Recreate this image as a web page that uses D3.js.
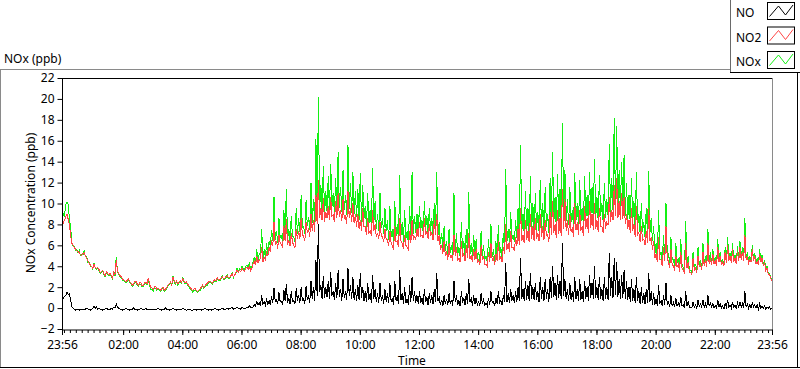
<!DOCTYPE html>
<html><head><meta charset="utf-8">
<script src="https://cdn.jsdelivr.net/npm/d3@7"></script>
<style>
html,body{margin:0;padding:0;background:#fff;}
svg{display:block;font-family:"Noto Sans","DejaVu Sans",sans-serif;}
</style></head>
<body><svg id="c" width="800" height="369"></svg>
<script>
// ---- data: samples every 2.5 minutes starting 23:56 (577 points, one row per hour) ----
const seriesNames = ["NO", "NO2", "NOx"];
const stepMinutes = 2.5;
const NO = [
0.7,0.9,1.1,1.2,1.5,1.3,1.4,0.8,0.1,0.0,-0.1,-0.2,-0.1,-0.1,-0.2,-0.1,-0.1,-0.2,-0.1,-0.1,0.0,-0.1,-0.1,-0.2,
-0.1,0.0,0.2,0.0,0.1,-0.1,0.0,-0.1,-0.1,-0.2,-0.1,-0.1,0.0,-0.1,-0.1,-0.2,0.0,-0.1,0.1,0.0,0.4,0.1,0.0,-0.1,
-0.1,-0.2,-0.1,-0.1,0.0,-0.1,-0.1,-0.2,-0.1,-0.1,0.0,-0.1,-0.1,-0.2,-0.1,-0.1,0.0,-0.1,-0.1,-0.1,0.0,-0.2,-0.1,-0.1,
-0.1,-0.2,-0.1,-0.1,-0.1,-0.1,0.0,-0.1,-0.1,-0.2,-0.1,-0.1,0.0,-0.1,-0.1,-0.2,-0.1,-0.1,0.0,-0.1,-0.1,-0.2,-0.1,-0.1,
-0.1,-0.1,0.0,-0.1,-0.1,-0.2,-0.1,-0.1,-0.1,-0.2,-0.2,-0.1,-0.1,-0.2,-0.1,-0.1,-0.1,-0.2,-0.1,-0.1,0.0,-0.1,-0.1,-0.2,
-0.1,-0.2,-0.1,-0.1,0.0,-0.1,-0.1,-0.2,-0.1,-0.1,0.0,-0.1,-0.1,-0.1,0.0,-0.1,0.0,0.0,0.1,-0.1,0.0,0.0,0.1,0.0,
0.0,-0.1,0.1,0.0,0.0,0.0,0.1,0.0,0.2,0.1,0.1,0.1,0.3,0.2,0.6,0.3,0.5,0.2,1.2,0.4,0.6,0.3,0.8,0.4,
0.7,0.3,1.1,0.5,1.9,0.6,0.8,0.4,1.5,0.6,0.6,0.3,1.7,0.7,2.3,0.5,0.9,0.4,1.6,0.6,0.7,0.4,1.9,0.7,
1.2,0.5,2.0,0.7,0.9,0.4,2.1,0.8,1.1,0.5,2.6,0.9,2.0,0.7,4.6,1.2,8.0,1.5,2.2,0.9,3.1,1.0,2.0,1.1,
2.6,0.9,3.4,1.2,1.6,0.8,2.4,1.0,3.6,1.1,1.8,0.7,2.8,1.0,1.6,0.8,3.8,1.2,2.2,0.9,3.0,0.8,1.8,0.7,
2.2,0.8,3.4,1.0,2.0,0.7,1.6,0.6,2.4,0.8,1.4,0.5,3.2,0.9,1.8,0.6,1.4,0.5,2.4,0.7,1.2,0.4,1.8,0.6,
1.4,0.5,2.4,0.6,1.0,0.3,2.6,0.7,1.2,0.4,3.6,0.8,1.4,0.4,2.0,0.5,0.9,0.3,2.2,0.6,3.0,0.7,1.6,0.5,
1.2,0.4,1.6,0.5,1.0,0.3,1.8,0.6,1.0,0.3,1.4,0.5,1.2,0.4,1.8,0.6,3.4,0.7,1.0,0.3,0.8,0.2,1.2,0.4,
0.9,0.3,1.4,0.4,0.8,0.2,2.6,0.6,1.2,0.3,0.7,0.2,1.6,0.5,1.0,0.3,1.4,0.4,2.8,0.6,0.9,0.2,1.2,0.4,
1.0,0.3,0.6,0.2,1.4,0.4,0.8,0.3,0.5,0.2,1.0,0.3,1.6,0.5,0.6,0.2,1.0,0.4,1.6,0.5,0.7,0.3,1.2,0.6,
4.3,0.6,1.4,0.5,1.8,0.7,1.2,0.5,1.6,0.6,2.0,0.7,4.8,0.9,1.8,0.7,2.6,0.8,2.2,0.7,3.4,0.9,2.0,0.8,
2.4,0.8,1.6,0.6,3.0,0.9,2.0,0.7,2.8,0.9,1.8,0.6,3.0,1.0,4.0,1.1,2.4,0.8,3.2,1.0,2.6,0.9,6.2,1.2,
2.8,0.9,1.8,0.7,2.4,0.8,1.6,0.6,3.0,0.9,1.8,0.7,2.8,0.8,1.6,0.6,2.6,0.9,2.0,0.7,3.2,1.0,2.4,0.9,
4.0,1.0,2.0,0.8,3.0,0.9,1.8,0.7,3.0,0.9,2.0,0.8,5.3,1.2,3.0,1.0,4.8,1.3,4.4,1.1,2.8,0.9,3.2,1.0,
3.6,0.9,2.6,0.8,2.0,0.6,2.8,0.7,1.8,0.5,3.0,0.7,1.6,0.4,2.0,0.5,1.4,0.4,1.8,0.5,3.4,0.6,1.6,0.3,
1.4,0.3,0.9,0.2,2.2,0.4,0.7,0.2,1.2,0.3,2.4,0.3,0.7,0.1,1.2,0.2,0.5,0.1,1.0,0.2,0.5,0.1,1.1,0.2,
0.3,0.0,1.6,0.2,0.6,0.1,0.1,0.0,0.6,0.1,0.3,0.0,0.8,0.2,0.4,0.1,0.8,0.1,0.4,0.0,1.2,0.2,0.5,0.1,
0.4,0.0,0.2,0.0,0.8,0.1,0.4,0.0,0.2,-0.1,0.4,0.1,0.8,0.1,0.3,0.0,0.6,0.1,0.3,0.0,0.5,0.1,0.6,0.1,
0.4,0.0,1.6,0.1,0.4,0.0,0.3,0.0,0.5,0.1,0.3,0.0,0.3,-0.1,0.4,0.0,0.2,0.0,0.2,-0.1,0.1,0.0,0.1,-0.1,0.0
];
const NO2 = [
7.8,8.1,8.4,8.7,9.0,8.5,8.0,7.0,6.2,6.0,5.8,5.6,5.5,5.4,5.3,5.1,5.0,5.2,5.3,5.0,4.8,4.5,4.3,4.1,
4.0,3.8,4.2,3.9,3.8,3.9,3.7,3.4,3.5,3.6,3.3,3.1,3.5,3.3,3.2,3.3,3.1,2.9,3.4,3.2,4.6,3.6,3.3,3.1,
3.0,2.8,2.7,2.6,2.5,2.7,2.8,2.5,2.4,2.2,2.3,2.5,2.6,2.3,2.2,2.4,2.4,2.1,2.2,2.4,2.5,2.3,2.9,2.3,
2.0,1.9,1.8,2.0,2.1,1.8,1.9,1.8,1.7,1.9,2.0,1.7,1.8,2.0,2.2,2.3,2.5,2.2,3.0,2.6,2.4,2.6,2.3,2.5,
2.6,2.5,2.8,2.6,2.4,2.5,2.3,2.1,2.0,1.8,1.7,1.8,1.9,1.7,1.6,1.7,1.8,2.0,2.2,2.0,2.1,2.3,2.4,2.5,
2.6,2.5,2.4,2.6,2.7,2.6,2.9,2.7,2.7,2.9,3.0,2.8,2.8,3.0,3.1,2.9,2.9,3.1,3.3,3.0,3.1,3.4,3.6,3.4,
3.6,3.5,3.8,3.6,3.5,3.8,3.9,3.7,4.0,3.6,3.8,4.2,4.5,4.1,5.0,4.3,4.6,4.8,5.8,4.4,4.8,4.6,5.3,5.0,
5.8,5.4,6.5,5.9,8.2,6.0,6.4,5.7,7.0,6.2,6.1,5.8,7.8,6.4,8.5,6.0,6.5,5.9,7.2,6.3,6.0,5.8,7.6,6.6,
7.4,6.6,8.6,7.0,6.9,6.4,8.2,7.2,7.6,6.8,9.0,7.4,8.4,7.3,10.8,8.0,12.2,8.6,9.6,8.4,10.5,8.2,9.2,8.6,
9.8,8.4,10.6,8.8,8.9,8.2,10.2,8.6,11.0,8.7,9.4,8.3,10.4,8.5,8.8,8.0,11.2,8.6,9.6,8.2,10.0,8.1,9.0,7.8,
9.0,7.6,8.4,7.4,9.6,7.8,7.8,7.0,8.6,7.2,7.4,6.9,9.4,7.4,8.0,6.8,7.2,6.6,8.2,6.9,6.8,6.3,7.6,6.6,
6.6,5.9,7.4,6.2,6.0,5.6,7.8,6.3,6.4,5.8,8.6,6.4,6.2,5.7,7.0,6.0,5.8,5.6,7.4,6.2,8.4,6.5,6.8,6.6,
7.6,6.8,8.2,6.9,7.0,6.7,8.6,7.0,7.4,6.6,8.0,6.9,7.2,6.5,8.4,7.0,9.0,6.4,7.0,5.6,6.0,5.2,6.4,5.0,
5.4,4.6,6.2,4.8,5.0,4.5,7.0,5.0,5.8,4.6,4.8,4.4,6.4,4.9,5.2,4.5,6.0,4.8,7.2,4.7,5.0,4.4,5.6,4.6,
5.6,4.3,4.6,4.1,6.0,4.6,5.0,4.2,4.2,4.0,5.4,4.4,6.2,4.5,4.8,4.1,5.2,4.5,6.4,4.6,5.0,4.4,5.8,5.2,
8.0,5.6,6.2,5.4,7.4,5.8,5.8,5.5,6.8,5.9,7.6,6.0,9.6,6.4,7.0,6.2,8.4,6.5,7.4,6.3,9.0,6.6,7.8,6.4,
8.6,6.6,7.2,6.4,9.0,6.8,7.8,6.5,8.4,6.9,7.0,6.3,9.2,7.0,10.2,7.2,8.0,6.7,9.4,7.1,8.6,6.9,11.4,7.6,
10.4,7.4,8.4,7.0,9.0,7.3,7.6,6.8,10.0,7.5,8.2,7.0,9.4,7.4,7.8,6.9,9.8,7.6,8.6,7.2,10.2,7.7,9.0,7.5,
10.0,7.6,8.4,7.3,9.6,7.8,7.8,7.2,9.0,7.6,8.2,7.9,10.6,8.2,9.4,8.4,11.8,8.8,12.4,8.6,10.2,8.4,11.0,8.5,
10.6,8.0,9.0,7.6,8.4,7.2,9.6,7.4,8.0,6.8,9.8,7.0,7.2,6.3,7.8,6.5,6.6,6.0,7.4,6.2,9.6,6.4,6.8,5.6,
6.4,4.8,5.2,4.4,6.8,4.6,4.6,4.0,5.8,4.5,7.8,4.8,4.4,3.8,5.6,4.2,4.0,3.6,5.0,3.9,4.2,3.5,5.4,3.8,
3.6,3.3,6.2,3.8,4.4,3.4,3.4,3.2,4.8,3.6,3.8,3.4,5.0,3.9,4.2,3.6,5.4,4.0,4.6,3.9,6.2,4.2,4.8,4.1,
5.2,4.2,4.6,4.0,5.8,4.4,5.0,4.1,4.4,4.0,5.4,4.3,6.0,4.5,5.0,4.3,5.6,4.4,4.8,4.2,5.4,4.5,5.8,4.6,
5.4,4.5,7.0,4.6,5.0,4.3,4.6,4.4,5.6,4.5,5.0,4.2,4.4,4.1,5.2,4.4,4.8,4.0,4.4,3.6,3.8,3.2,3.2,2.8,2.6
];
const NOx = [
8.0,9.0,8.8,9.9,10.1,9.9,8.6,7.7,6.3,5.9,5.9,5.5,5.6,5.3,5.5,5.0,5.1,5.1,5.5,4.9,4.9,4.4,4.4,4.0,
4.0,3.7,4.3,3.8,3.7,3.8,3.6,3.3,3.4,3.5,3.2,3.0,3.4,3.2,3.1,3.2,3.0,2.8,3.5,3.1,4.9,3.5,3.2,3.0,
2.9,2.7,2.6,2.5,2.4,2.6,2.7,2.4,2.3,2.1,2.2,2.4,2.5,2.2,2.1,2.3,2.3,2.0,2.1,2.3,2.4,2.2,2.8,2.2,
1.8,1.8,1.6,1.9,1.9,1.7,1.8,1.7,1.6,1.8,1.9,1.6,1.7,1.9,2.1,2.2,2.4,2.1,3.1,2.5,2.3,2.5,2.2,2.4,
2.5,2.4,2.9,2.5,2.3,2.4,2.2,2.0,1.8,1.7,1.5,1.7,1.7,1.6,1.5,1.6,1.7,1.9,2.1,1.9,2.0,2.2,2.2,2.4,
2.5,2.4,2.3,2.5,2.6,2.5,2.8,2.6,2.6,2.8,3.1,2.7,2.7,2.9,3.2,2.8,2.9,3.0,3.4,2.9,3.2,3.3,3.8,3.4,
3.8,3.7,4.0,3.8,3.6,4.0,4.1,3.9,4.3,3.8,4.0,4.4,4.9,4.3,5.6,4.5,5.2,5.0,7.6,4.6,5.6,4.8,6.2,5.2,
6.4,5.9,7.5,6.4,10.6,6.5,7.4,6.2,8.6,6.7,6.9,6.3,9.4,6.9,11.4,6.5,7.6,6.4,8.8,6.8,6.8,6.3,9.6,7.1,
8.6,7.3,10.8,7.7,7.8,7.1,10.3,7.9,8.7,7.5,12.0,8.1,10.4,8.0,16.2,8.7,20.2,9.3,11.8,9.1,13.6,8.9,11.2,9.3,
12.6,9.3,13.8,9.7,11.0,9.1,12.4,9.5,14.9,9.6,11.6,9.2,13.2,9.4,10.8,8.9,15.6,9.5,12.0,9.1,13.0,9.0,11.2,8.7,
11.4,8.4,12.9,8.2,11.8,8.6,9.8,7.8,11.0,8.0,9.4,7.7,13.4,8.2,10.2,7.6,9.0,7.4,11.0,7.7,8.6,7.1,9.6,7.4,
8.4,6.5,9.8,6.8,7.6,6.2,10.2,6.9,8.0,6.4,12.7,7.0,8.2,6.3,9.4,6.6,7.4,6.2,9.8,6.8,13.0,7.1,8.8,7.2,
9.0,7.3,9.8,7.4,8.4,7.2,10.2,7.5,8.8,7.1,9.6,7.4,8.6,7.0,10.0,7.5,13.0,6.9,8.2,6.1,7.2,5.7,7.8,5.5,
6.4,5.1,7.6,5.3,6.0,5.0,11.0,5.5,7.2,5.1,5.8,4.9,8.2,5.4,6.4,5.0,7.6,5.3,11.1,5.2,6.2,4.9,7.0,5.1,
6.6,4.7,5.4,4.5,7.4,5.0,6.0,4.6,5.0,4.4,6.6,4.8,8.0,4.9,5.6,4.5,6.4,4.9,7.9,5.0,5.8,4.8,7.2,5.6,
13.3,6.4,7.6,6.2,9.2,6.6,7.0,6.3,8.4,6.7,9.6,6.8,15.6,7.2,9.0,7.0,11.2,7.3,9.6,7.1,12.6,7.4,10.0,7.2,
11.0,7.5,9.2,7.3,12.2,7.7,10.0,7.4,11.6,7.8,9.0,7.2,12.4,7.9,14.9,8.1,10.6,7.6,12.8,8.0,11.4,7.8,17.7,8.5,
13.2,8.3,10.4,7.9,11.6,8.2,9.4,7.7,12.9,8.4,10.0,7.9,12.2,8.3,9.6,7.8,12.6,8.5,10.8,8.1,13.0,8.6,11.6,8.4,
14.3,8.6,10.6,8.3,12.7,8.8,10.0,8.2,12.0,8.6,10.4,8.9,15.7,9.2,12.4,9.4,18.2,9.8,17.4,9.6,13.2,9.4,14.0,9.5,
14.6,8.8,12.0,8.4,10.8,8.0,12.4,8.2,10.2,7.6,13.0,7.8,9.0,7.1,10.0,7.3,8.2,6.8,9.6,7.0,13.1,7.2,8.6,6.4,
7.8,5.2,6.2,4.8,9.4,5.0,5.4,4.4,7.0,4.9,10.0,5.2,5.2,4.2,6.8,4.6,4.6,4.0,6.2,4.3,4.8,3.9,6.6,4.2,
3.9,3.5,8.3,4.0,5.0,3.6,3.6,3.4,5.4,3.8,4.2,3.6,5.8,4.1,4.6,3.8,6.2,4.2,5.0,4.1,7.6,4.4,5.4,4.3,
5.6,4.3,4.9,4.1,6.6,4.5,5.4,4.2,4.7,4.1,5.8,4.4,6.8,4.6,5.3,4.4,6.2,4.5,5.1,4.3,5.9,4.6,6.4,4.7,
5.8,4.6,8.6,4.7,5.4,4.4,4.9,4.5,6.0,4.6,5.3,4.3,4.7,4.2,5.6,4.5,5.1,4.1,4.6,3.7,4.0,3.3,3.3,2.9,2.6
];
const yTicks = [-2,0,2,4,6,8,10,12,14,16,18,20,22];
const xTickLabels = ["23:56","02:00","04:00","06:00","08:00","10:00","12:00","14:00","16:00","18:00","20:00","22:00","23:56"];
const colors = {NO:"#000000", NO2:"#ff4545", NOx:"#14f014"};

// ---- layout ----
const svg = d3.select("#c");
const L = 62, R = 772, T = 78, B = 329;
const t0 = new Date(2020,0,1,23,56);
const t1 = new Date(t0.getTime() + 24*3600*1000);
const x = d3.scaleTime().domain([t0,t1]).range([L,R]);
const y = d3.scaleLinear().domain([-2,22]).range([B,T]);
const tAt = i => new Date(t0.getTime() + i*stepMinutes*60000);

// outer frame
svg.append("line").attr("x1",0).attr("x2",730).attr("y1",69.5).attr("y2",69.5).attr("stroke","#8a8a8a");
svg.append("line").attr("x1",0.5).attr("x2",0.5).attr("y1",69).attr("y2",368).attr("stroke","#8a8a8a");
svg.append("line").attr("x1",0).attr("x2",800).attr("y1",367.5).attr("y2",367.5).attr("stroke","#000");
svg.append("line").attr("x1",797.5).attr("x2",797.5).attr("y1",72).attr("y2",368).attr("stroke","#000");

svg.append("text").attr("x",4).attr("y",63).attr("font-size",12).text("NOx (ppb)");

// legend
const lg = svg.append("g");
lg.append("line").attr("x1",730.5).attr("x2",730.5).attr("y1",0).attr("y2",72).attr("stroke","#6a6a6a");
lg.append("line").attr("x1",730).attr("x2",800).attr("y1",72.5).attr("y2",72.5).attr("stroke","#000");
seriesNames.forEach((n,i)=>{
  const yy = 2 + i*24.5;
  lg.append("text").attr("x",736).attr("y",yy+15).attr("font-size",12).text(n);
  lg.append("rect").attr("x",767.5).attr("y",yy+0.5).attr("width",27).attr("height",17).attr("fill","#fff").attr("stroke","#000");
  lg.append("polyline").attr("points",`${769.5},${yy+14.5} ${778.5},${yy+4} ${785.5},${yy+13} ${793},${yy+3}`)
    .attr("fill","none").attr("stroke",colors[n]).attr("stroke-width",1);
});

// plot background
svg.append("rect").attr("x",L).attr("y",T).attr("width",R-L).attr("height",B-T).attr("fill","#fff");
svg.append("defs").append("clipPath").attr("id","clip").append("rect").attr("x",L+1).attr("y",T+1).attr("width",R-L-1).attr("height",B-T-1);

// series (NOx first, NO on top)
const gData = svg.append("g").attr("clip-path","url(#clip)");
[["NOx",NOx],["NO2",NO2],["NO",NO]].forEach(([n,arr])=>{
  gData.append("path").datum(arr)
    .attr("d", d3.line().x((d,i)=>x(tAt(i))).y(d=>y(d)))
    .attr("fill","none").attr("stroke",colors[n]).attr("stroke-width",1)
    .attr("shape-rendering","crispEdges");
});

// borders
svg.append("line").attr("x1",L).attr("x2",R).attr("y1",T+0.5).attr("y2",T+0.5).attr("stroke","#000");
svg.append("line").attr("x1",R+0.5).attr("x2",R+0.5).attr("y1",T).attr("y2",B+1).attr("stroke","#8a8a8a");

// y axis
const yAxis = d3.axisLeft(y).tickValues(yTicks).tickSize(5).tickPadding(3).tickFormat(d3.format("d"));
const gy = svg.append("g").attr("transform",`translate(${L+0.5},0)`).call(yAxis);
gy.select(".domain").attr("d",`M0,${T}V${B+1}`).attr("stroke","#000");
gy.selectAll("text").attr("font-size",12).attr("font-family","Noto Sans").attr("fill","#000");

// x axis: minor ticks every 12 minutes
const minorTicks = d3.timeMinute.every(12).range(new Date(2020,0,2,0,0), t1);
const gxm = svg.append("g").attr("transform",`translate(0,${B+1})`)
  .call(d3.axisBottom(x).tickValues(minorTicks).tickSize(3).tickFormat(""));
gxm.select(".domain").remove();
const majorTicks = xTickLabels.map((s,i)=> i===0 ? t0 : (i===xTickLabels.length-1 ? t1 : new Date(2020,0,2,+s.slice(0,2),0)));
const gx = svg.append("g").attr("transform",`translate(0,${B+1})`)
  .call(d3.axisBottom(x).tickValues(majorTicks).tickSize(5).tickPadding(5).tickFormat((d,i)=>xTickLabels[i]));
gx.select(".domain").attr("d",`M${L},0H${R+1}`).attr("stroke","#000");
gx.selectAll("text").attr("font-size",12).attr("font-family","Noto Sans").attr("fill","#000");

// axis titles
svg.append("text").attr("transform",`translate(35,203) rotate(-90)`).attr("text-anchor","middle")
  .attr("font-size",12).text("NOx Concentration (ppb)");
svg.append("text").attr("x",412).attr("y",365).attr("text-anchor","middle").attr("font-size",12).text("Time");
</script></body></html>
